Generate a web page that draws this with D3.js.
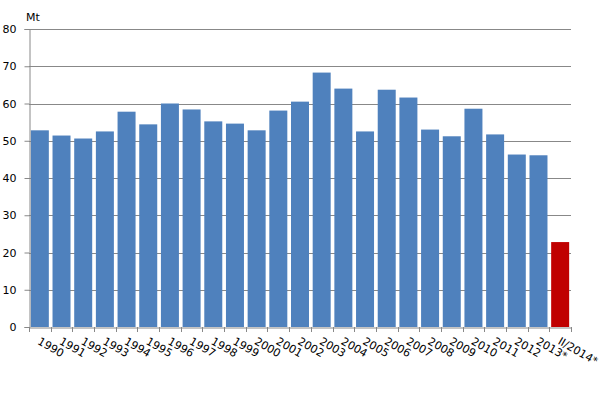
<!DOCTYPE html>
<html><head><meta charset="utf-8">
<script src="https://cdn.jsdelivr.net/npm/d3@7"></script>
<style>body{margin:0;background:#fff}svg{display:block}text{font-family:"DejaVu Sans",Verdana,sans-serif;font-size:11px;fill:#000}</style>
</head><body><svg id="c" width="607" height="418"></svg>
<script>
const categories = ["1990","1991","1992","1993","1994","1995","1996","1997","1998","1999","2000","2001","2002","2003","2004","2005","2006","2007","2008","2009","2010","2011","2012","2013*","II/2014*"];
const values = [52.8,51.4,50.6,52.5,57.8,54.4,60.0,58.4,55.2,54.6,52.8,58.1,60.5,68.3,64.0,52.5,63.7,61.6,53.0,51.2,58.6,51.7,46.3,46.1,22.8];
const yTicks = [0,10,20,30,40,50,60,70,80];
const unitLabel = "Mt";

const svg = d3.select("#c");
const mLeft = 29, mRight = 571, mTop = 29, mBottom = 327;
const x = d3.scaleBand().domain(categories).range([mLeft, mRight]).paddingInner(0.17).paddingOuter(0.085);
const y = d3.scaleLinear().domain([0, 80]).range([mBottom, mTop]);

// gridlines
svg.append("g").selectAll("line").data(yTicks.filter(d => d > 0)).join("line")
  .attr("x1", mLeft).attr("x2", mRight)
  .attr("y1", d => Math.round(y(d)) + 0.5).attr("y2", d => Math.round(y(d)) + 0.5)
  .attr("stroke", "#888").attr("stroke-width", 1);

// bars
svg.append("g").selectAll("rect").data(categories).join("rect")
  .attr("x", d => x(d)).attr("width", x.bandwidth())
  .attr("y", (d, i) => y(values[i])).attr("height", (d, i) => y(0) - y(values[i]))
  .attr("fill", (d, i) => i === categories.length - 1 ? "#c00000" : "#4f81bd");

// y axis
const ya = svg.append("g").attr("transform", `translate(${mLeft + 0.5},0)`)
  .call(d3.axisLeft(y).tickValues(yTicks).tickSize(5).tickPadding(8));
ya.select(".domain").attr("stroke", "#888");
ya.selectAll(".tick line").attr("stroke", "#888");
ya.selectAll("text").style("font-family", "DejaVu Sans, Verdana, sans-serif").style("font-size", "11px").attr("fill", "#000");

// x axis
const xBand = d3.scaleBand().domain(categories).range([mLeft, mRight]);
const xa = svg.append("g").attr("transform", `translate(0,${Math.round(mBottom) + 0.5})`)
  .call(d3.axisBottom(xBand).tickSize(0).tickSizeOuter(0));
xa.select(".domain").attr("stroke", "#888");
xa.selectAll(".tick line").remove();
svg.append("g").selectAll("line").data(d3.range(categories.length + 1)).join("line")
  .attr("x1", i => Math.round(mLeft + i * xBand.step()) + 0.5)
  .attr("x2", i => Math.round(mLeft + i * xBand.step()) + 0.5)
  .attr("y1", mBottom).attr("y2", mBottom + 5)
  .attr("stroke", "#888");
xa.selectAll("text")
  .style("font-family", "DejaVu Sans, Verdana, sans-serif").style("font-size", "11px").attr("fill", "#000")
  .attr("text-anchor", "start").attr("dy", null).attr("y", 0)
  .attr("transform", "translate(-3,16) rotate(30)");

svg.append("text").attr("x", 26).attr("y", 21).text(unitLabel);
</script></body></html>
